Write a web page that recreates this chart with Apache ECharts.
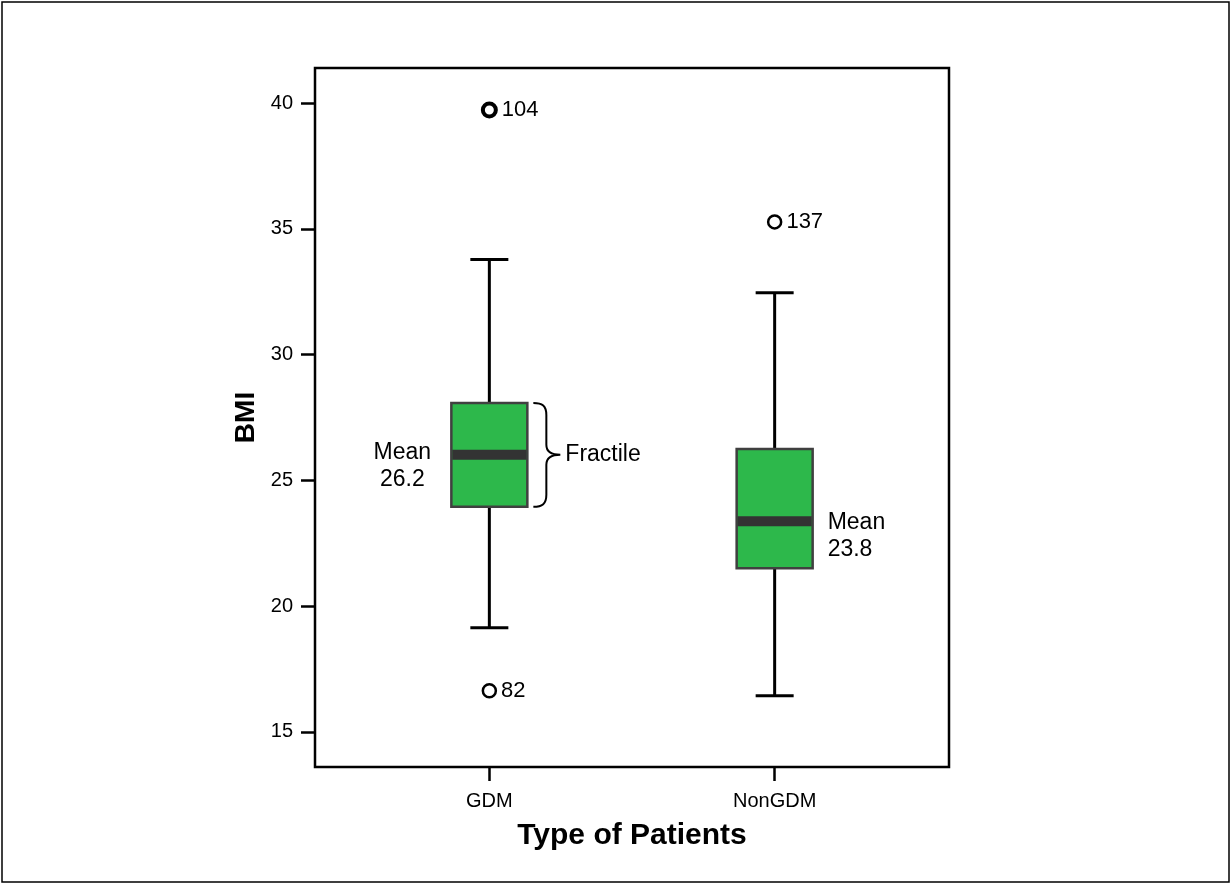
<!DOCTYPE html>
<html>
<head>
<meta charset="utf-8">
<script src="https://cdn.jsdelivr.net/npm/echarts@6/dist/echarts.min.js"></script>
<style>
html,body{margin:0;padding:0;background:#fff;}
#chart{width:1231px;height:884px;}
</style>
</head>
<body>
<div id="chart"></div>
<script>
// ---- data ----
const categories = ['GDM', 'NonGDM'];
const whiskerLow  = [19.14, 16.43];
const q1          = [23.95, 21.50];
const median      = [26.02, 23.37];
const q3          = [28.08, 26.25];
const whiskerHigh = [33.78, 32.46];

const outlierCategory = ['GDM', 'GDM', 'NonGDM'];
const outlierValues   = [39.73, 16.63, 35.28];
const outlierLabels   = ['104', '82', '137'];

const meanLabels = ['Mean\n26.2', 'Mean\n23.8'];
const fractileLabel = 'Fractile';
const yTicks = [15, 20, 25, 30, 35, 40];

// ---- layout ----
const SLOT_COUNT = 20;
const slotIndex = { GDM: 5, NonGDM: 14 };
const meanSide = ['left', 'right'];
const showBrace = [true, false];
const FONT = "'Liberation Sans', Arial, sans-serif";

const slots = new Array(SLOT_COUNT).fill('');
categories.forEach(c => { slots[slotIndex[c]] = c; });

const boxData = categories.map((c, i) => [slotIndex[c], whiskerLow[i], q1[i], median[i], q3[i], whiskerHigh[i], i]);
const outlierData = outlierValues.map((v, i) => ({
  value: [slotIndex[outlierCategory[i]], v],
  name: outlierLabels[i],
  itemStyle: { borderWidth: i === 0 ? 4 : 2.5 }
}));

function renderBox(params, api) {
  const x = api.value(0);
  const idx = api.value(6);
  const pLow = api.coord([x, api.value(1)]);
  const pQ1 = api.coord([x, api.value(2)]);
  const pMed = api.coord([x, api.value(3)]);
  const pQ3 = api.coord([x, api.value(4)]);
  const pHigh = api.coord([x, api.value(5)]);
  const cx = pMed[0];
  const halfBox = 38, halfCap = 19;
  const whisk = { stroke: '#000', lineWidth: 3 };
  const children = [
    { type: 'line', shape: { x1: cx, y1: pHigh[1], x2: cx, y2: pQ3[1] }, style: whisk },
    { type: 'line', shape: { x1: cx, y1: pQ1[1], x2: cx, y2: pLow[1] }, style: whisk },
    { type: 'line', shape: { x1: cx - halfCap, y1: pHigh[1], x2: cx + halfCap, y2: pHigh[1] }, style: whisk },
    { type: 'line', shape: { x1: cx - halfCap, y1: pLow[1], x2: cx + halfCap, y2: pLow[1] }, style: whisk },
    { type: 'rect', shape: { x: cx - halfBox, y: pQ3[1], width: 2 * halfBox, height: pQ1[1] - pQ3[1] },
      style: { fill: '#2db84b', stroke: '#404040', lineWidth: 2.5 } },
    { type: 'rect', shape: { x: cx - halfBox + 1, y: pMed[1] - 5, width: 2 * halfBox - 2, height: 10 },
      style: { fill: '#333333' } }
  ];
  const textStyleBase = { fill: '#000', fontSize: 23, fontFamily: FONT, lineHeight: 27 };
  if (meanSide[idx] === 'left') {
    children.push({ type: 'text', style: Object.assign({}, textStyleBase, {
      text: meanLabels[idx], x: cx - halfBox - 49, y: pMed[1] + 11, align: 'center', verticalAlign: 'middle' }) });
  } else {
    children.push({ type: 'text', style: Object.assign({}, textStyleBase, {
      text: meanLabels[idx], x: cx + halfBox + 15, y: pMed[1] + 15, align: 'left', verticalAlign: 'middle' }) });
  }
  if (showBrace[idx]) {
    const x0 = cx + halfBox + 6;
    const top = pQ3[1], bot = pQ1[1], mid = (top + bot) / 2;
    const path = `M${x0},${top} C${x0+9},${top} ${x0+13},${top+3} ${x0+13},${top+12} L${x0+13},${mid-10} C${x0+13},${mid-3} ${x0+18},${mid} ${x0+27},${mid} C${x0+18},${mid} ${x0+13},${mid+3} ${x0+13},${mid+10} L${x0+13},${bot-12} C${x0+13},${bot-3} ${x0+9},${bot} ${x0},${bot}`;
    children.push({ type: 'path', shape: { pathData: path }, style: { stroke: '#000', lineWidth: 2, fill: null } });
    children.push({ type: 'text', style: Object.assign({}, textStyleBase, {
      text: fractileLabel, x: x0 + 32, y: mid, align: 'left', verticalAlign: 'middle' }) });
  }
  return { type: 'group', children };
}

const chart = echarts.init(document.getElementById('chart'), null, { renderer: 'canvas' });
chart.setOption({
  animation: false,
  backgroundColor: '#fff',
  graphic: [{
    type: 'rect', shape: { x: 2, y: 2, width: 1227, height: 880 },
    style: { fill: null, stroke: '#000', lineWidth: 1.5 }, z: -1
  }],
  grid: {
    left: 315, top: 68, right: 282, bottom: 117,
    show: true, borderColor: '#000', borderWidth: 2.5, backgroundColor: 'transparent',
    containLabel: false, outerBoundsMode: 'none'
  },
  xAxis: {
    type: 'category',
    data: slots,
    boundaryGap: true,
    axisLine: { show: false },
    axisTick: {
      show: true, alignWithLabel: true, length: 14,
      interval: (i, v) => v !== '',
      lineStyle: { color: '#000', width: 2.5 }
    },
    axisLabel: { interval: 0, fontSize: 20, fontFamily: FONT, color: '#000', margin: 24 },
    splitLine: { show: false },
    name: 'Type of Patients',
    nameLocation: 'middle',
    nameGap: 54,
    nameTextStyle: { fontSize: 30, fontWeight: 'bold', fontFamily: FONT, color: '#000' }
  },
  yAxis: {
    type: 'value',
    min: 13.6, max: 41.4,
    axisLine: { show: false },
    axisTick: { show: true, length: 14, customValues: yTicks, lineStyle: { color: '#000', width: 2.5 } },
    axisLabel: { customValues: yTicks, fontSize: 20, fontFamily: FONT, color: '#000', margin: 22 },
    splitLine: { show: false },
    name: 'BMI',
    nameLocation: 'middle',
    nameGap: 45,
    nameRotate: 90,
    nameTextStyle: { fontSize: 28, fontWeight: 'bold', fontFamily: FONT, color: '#000' }
  },
  series: [
    {
      type: 'custom',
      renderItem: renderBox,
      data: boxData,
      encode: { x: 0, y: [1, 2, 3, 4, 5] },
      clip: false,
      z: 2
    },
    {
      type: 'scatter',
      data: outlierData,
      symbol: 'circle',
      symbolSize: 13,
      itemStyle: { color: '#fff', borderColor: '#000', opacity: 1 },
      label: {
        show: true, position: 'right', distance: 4,
        formatter: p => p.name,
        fontSize: 22, fontFamily: FONT, color: '#000', opacity: 1
      },
      emphasis: { disabled: true },
      z: 3
    }
  ]
});
</script>
</body>
</html>
